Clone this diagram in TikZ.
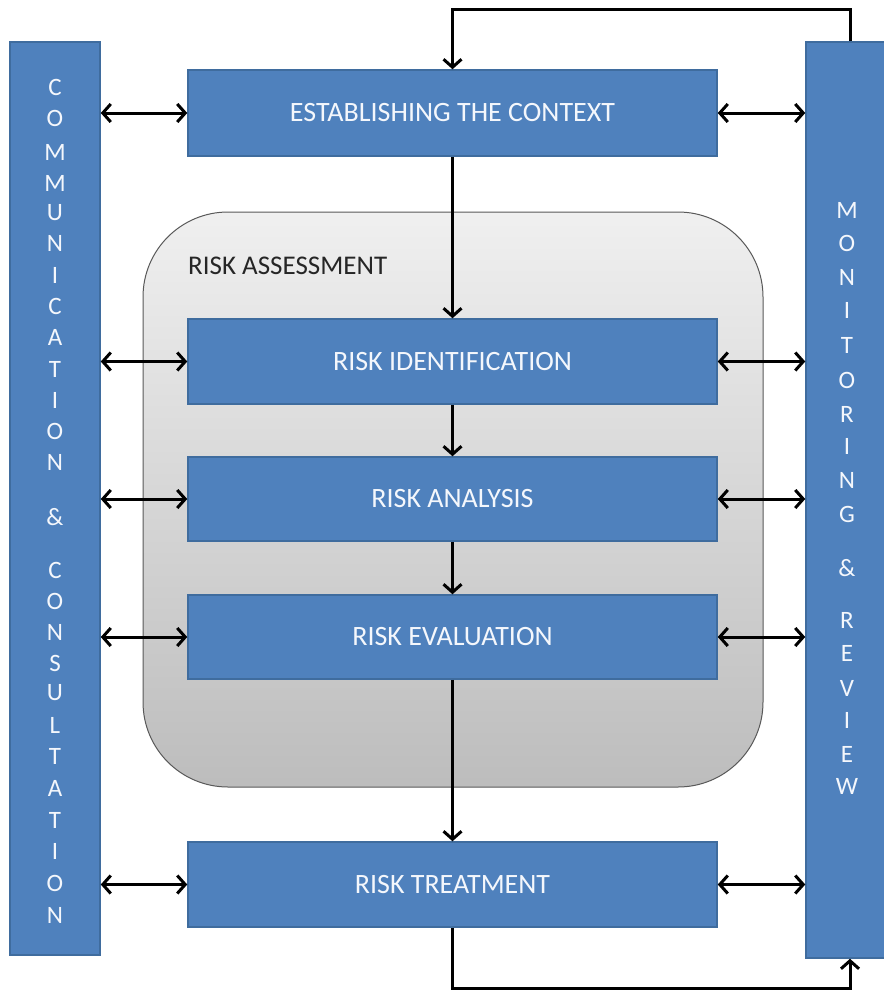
\documentclass[tikz,border=0pt]{standalone}
\usepackage{fontspec}
\setmainfont{Carlito}
\usetikzlibrary{arrows.meta,calc}
\definecolor{boxblue}{HTML}{4F81BD}
\definecolor{boxedge}{HTML}{3F6C9E}
\definecolor{txtw}{HTML}{F4F7FC}
\begin{document}
\begin{tikzpicture}[x=1pt,y=-1pt,
  blk/.style={draw=boxedge, line width=1.5pt, fill=boxblue, minimum width=529pt,
    inner sep=0pt, text=txtw, font=\fontsize{28}{32}\selectfont},
  bar/.style={draw=boxedge, line width=1.5pt, fill=boxblue, inner sep=0pt},
  vlet/.style={text=txtw, font=\fontsize{25}{28}\selectfont, inner sep=0pt},
  dbl/.style={line width=3pt, {Straight Barb[length=8pt,width=18pt]}-{Straight Barb[length=8pt,width=18pt]}},
  arr/.style={line width=3pt, -{Straight Barb[length=8pt,width=18pt]}}]
\useasboundingbox (0,0) rectangle (883,990);
% side bars
\node[bar, minimum width=90pt, minimum height=913pt] (comm) at (55,498.5) {};
\node[bar, minimum width=84pt, minimum height=916pt] (mon) at (848,500) {};
% risk assessment frame
\node[draw=black!65, line width=1pt, rounded corners=85pt, top color=black!6, bottom color=black!26,
  minimum width=620pt, minimum height=575pt] (ra) at (453,499.5) {};
\node[anchor=west, text=black!85, font=\fontsize{27}{30}\selectfont, inner sep=0pt] (ralab) at (188,266) {RISK ASSESSMENT};
% process boxes
\node[blk, minimum height=86pt] (ctx) at (452.5,113) {ESTABLISHING THE CONTEXT};
\node[blk, minimum height=85pt] (rid) at (452.5,361.5) {RISK IDENTIFICATION};
\node[blk, minimum height=84pt] (ran) at (452.5,499) {RISK ANALYSIS};
\node[blk, minimum height=84pt] (rev) at (452.5,637) {RISK EVALUATION};
\node[blk, minimum height=85pt] (rtr) at (452.5,884.5) {RISK TREATMENT};
% vertical letters
\foreach \l/\y [count=\i] in {C/87,O/118,M/152,M/183,U/213,N/243,I/275,C/306,A/337,T/369,I/400,O/431,N/462,\&/517,C/570,O/601,N/632,S/663,U/693,L/725,T/756,A/788,T/820,I/851,O/883,N/915}
  \node[vlet] (cl\i) at (55,\y) {\l};
\foreach \l/\y [count=\i] in {M/210,O/243,N/277,I/310,T/345,O/380,R/414,I/446,N/480,G/514,\&/568,R/620,E/653,V/688,I/720,E/754,W/786}
  \node[vlet] (ml\i) at (847,\y) {\l};
% double arrows
\foreach \b in {ctx,rid,ran,rev,rtr}{
  \draw[dbl] (comm.east |- \b.west) -- (\b.west);
  \draw[dbl] (\b.east) -- (mon.west |- \b.east);
}
% flow arrows
\draw[arr] (ctx.south) -- (rid.north);
\draw[arr] (rid.south) -- (ran.north);
\draw[arr] (ran.south) -- (rev.north);
\draw[arr] (rev.south) -- (rtr.north);
% loops
\coordinate (ttop) at (850,10);
\coordinate (tbot) at (850,988);
\draw[arr] (mon.north -| ttop) |- (ctx.north |- ttop) -- (ctx.north);
\draw[arr] (rtr.south) |- (tbot) -- (mon.south -| tbot);
\end{tikzpicture}
\end{document}
